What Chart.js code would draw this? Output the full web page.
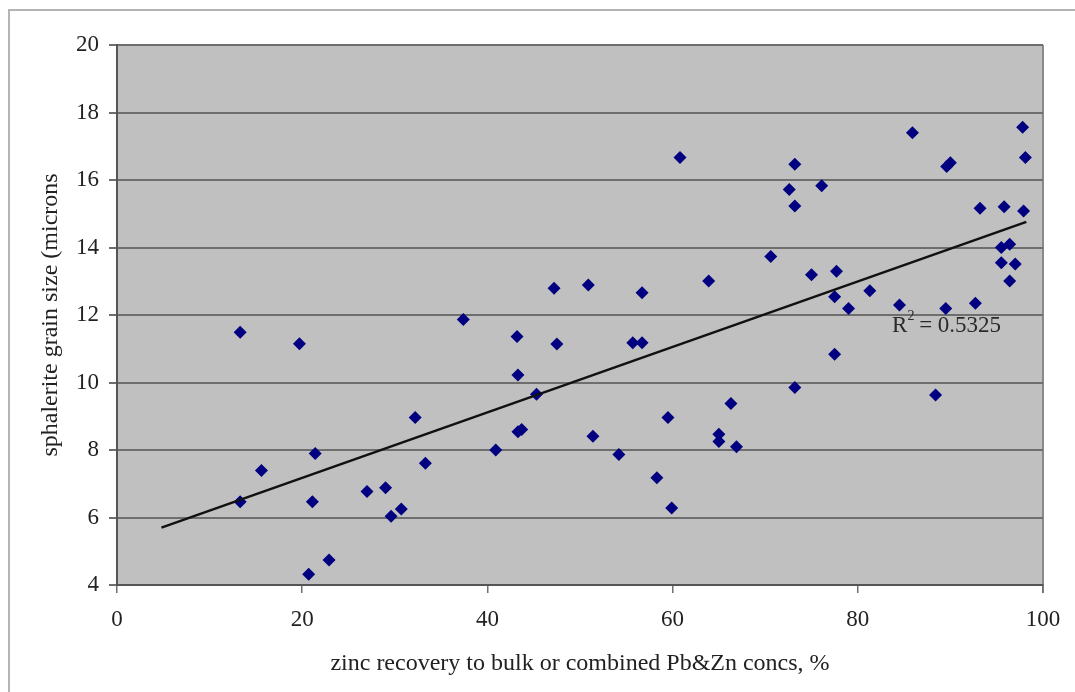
<!DOCTYPE html>
<html>
<head>
<meta charset="utf-8">
<script src="https://cdn.jsdelivr.net/npm/chart.js@4"></script>
<style>
  html, body { margin: 0; padding: 0; background: #fff; }
  #wrap { width: 1075px; height: 692px; }
</style>
</head>
<body>
<div id="wrap"><canvas id="grainChart"></canvas></div>
<script>
// zinc recovery (%) against sphalerite grain size (microns)
var recovery = [13.3, 13.3, 15.6, 19.7, 21.4, 21.1, 20.7, 22.9, 27.0, 29.0, 29.6, 30.7, 32.2, 33.3,
  37.4, 40.9, 43.2, 43.3, 43.3, 43.7, 45.3, 47.2, 47.5, 50.9, 51.4, 54.2, 55.7, 56.7, 56.7, 58.3,
  59.5, 60.8, 59.9, 63.9, 65.0, 65.0, 66.3, 66.9, 70.6, 72.6, 73.2, 73.2, 73.2, 75.0, 76.1, 77.7,
  77.5, 77.5, 79.0, 81.3, 84.5, 85.9, 88.4, 89.5, 89.6, 90.0, 92.7, 93.2, 95.5, 95.5, 95.8, 96.4,
  96.4, 97.0, 97.8, 97.9, 98.1];
var grainSize = [11.49, 6.47, 7.39, 11.15, 7.90, 6.47, 4.32, 4.74, 6.77, 6.88, 6.04, 6.25, 8.96, 7.61,
  11.87, 8.00, 11.36, 10.22, 8.54, 8.61, 9.65, 12.79, 11.14, 12.89, 8.41, 7.87, 11.18, 11.18, 12.66, 7.18,
  8.96, 16.67, 6.28, 13.01, 8.47, 8.25, 9.38, 8.10, 13.73, 15.72, 16.47, 15.23, 9.85, 13.19, 15.83, 13.30,
  12.54, 10.84, 12.19, 12.72, 12.30, 17.40, 9.63, 12.19, 16.40, 16.51, 12.35, 15.16, 14.00, 13.55, 15.21, 14.10,
  13.01, 13.51, 17.56, 15.08, 16.67];

// linear trendline ends
var trendX = [4.8, 98.2];
var trendY = [5.70, 14.76];
var rSquared = '0.5325';

var xTicks = [0, 20, 40, 60, 80, 100];
var yTicks = [4, 6, 8, 10, 12, 14, 16, 18, 20];

var punti = recovery.map(function (x, i) { return { x: x, y: grainSize[i] }; });
var linha = trendX.map(function (x, i) { return { x: x, y: trendY[i] }; });

var serif = '"Liberation Serif", "DejaVu Serif", serif';

// gray plot background + frame around the whole chart
var fundoPlugin = {
  id: 'fundo',
  beforeDraw: function (chart) {
    var ctx = chart.ctx, a = chart.chartArea;
    ctx.save();
    ctx.strokeStyle = '#b4b4b4';
    ctx.lineWidth = 2;
    ctx.beginPath();
    ctx.moveTo(9, 692);
    ctx.lineTo(9, 10);
    ctx.lineTo(1075, 10);
    ctx.stroke();
    ctx.fillStyle = '#c0c0c0';
    ctx.fillRect(a.left, a.top, a.right - a.left, a.bottom - a.top);
    ctx.strokeStyle = '#8a8a8a';
    ctx.lineWidth = 2;
    ctx.beginPath();
    ctx.moveTo(a.right, a.top);
    ctx.lineTo(a.right, a.bottom + 8);
    ctx.stroke();
    ctx.restore();
  }
};

// R² label next to the trendline
var r2Plugin = {
  id: 'r2label',
  afterDatasetsDraw: function (chart) {
    var ctx = chart.ctx;
    var px = chart.scales.x.getPixelForValue(83.7);
    var py = chart.scales.y.getPixelForValue(11.67);
    ctx.save();
    ctx.fillStyle = '#2a2a2a';
    ctx.textBaseline = 'middle';
    ctx.textAlign = 'left';
    ctx.font = '23px ' + serif;
    ctx.fillText('R', px, py);
    var w = ctx.measureText('R').width;
    ctx.font = '14px ' + serif;
    ctx.fillText('2', px + w, py - 10);
    var w2 = ctx.measureText('2').width;
    ctx.font = '23px ' + serif;
    ctx.fillText(' = ' + rSquared, px + w + w2 - 1, py);
    ctx.restore();
  }
};

var config = {
  type: 'scatter',
  data: {
    datasets: [{
      data: punti,
      pointStyle: 'rectRot',
      pointRadius: 6.5,
      pointHoverRadius: 6.5,
      backgroundColor: '#000080',
      borderColor: '#000080',
      borderWidth: 0,
      order: 2
    }, {
      type: 'line',
      data: linha,
      borderColor: '#111',
      borderWidth: 2.5,
      pointRadius: 0,
      fill: false,
      order: 1
    }]
  },
  options: {
    responsive: true,
    maintainAspectRatio: false,
    animation: false,
    layout: { padding: { top: 45, right: 32, left: 10, bottom: 0 } },
    plugins: { legend: { display: false }, tooltip: { enabled: false } },
    scales: {
      x: {
        type: 'linear',
        min: 0, max: 100,
        afterBuildTicks: function (s) { s.ticks = xTicks.map(function (v) { return { value: v }; }); },
        afterFit: function (s) { s.height = 107; },
        grid: { drawOnChartArea: false, drawTicks: true, tickLength: 8, color: '#707070', lineWidth: 1.5 },
        border: { display: true, color: '#555', width: 2 },
        ticks: { color: '#222', font: { family: serif, size: 23 }, padding: 13 },
        title: {
          display: true,
          text: 'zinc recovery to bulk or combined Pb&Zn concs, %',
          color: '#222',
          font: { family: serif, size: 24 },
          padding: { top: 0, bottom: 14 }
        }
      },
      y: {
        type: 'linear',
        min: 4, max: 20,
        afterBuildTicks: function (s) { s.ticks = yTicks.map(function (v) { return { value: v }; }); },
        afterFit: function (s) { s.width = 107; },
        grid: { drawOnChartArea: true, drawTicks: true, tickLength: 8, color: '#6e6e6e', lineWidth: 2 },
        border: { display: true, color: '#555', width: 2 },
        ticks: { color: '#222', font: { family: serif, size: 23 }, padding: 10 },
        title: {
          display: true,
          text: 'sphalerite grain size (microns',
          color: '#222',
          font: { family: serif, size: 24 },
          padding: { top: 26, bottom: 0 }
        }
      }
    }
  },
  plugins: [fundoPlugin, r2Plugin]
};

var ctxGrain = document.getElementById('grainChart').getContext('2d');
new Chart(ctxGrain, config);
</script>
</body>
</html>
